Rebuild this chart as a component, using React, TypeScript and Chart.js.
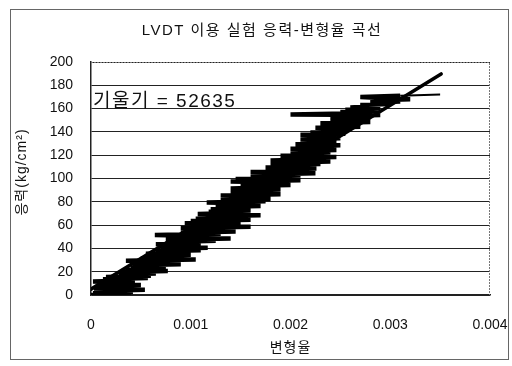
import React, { useEffect, useRef } from "react";
import { Chart, registerables } from "chart.js";

Chart.register(...registerables);

const TITLE = "LVDT 이용 실험 응력-변형율 곡선";
const X_TITLE = "변형율";
const Y_TITLE = "응력(kg/cm²)";
const SLOPE = 52635;
const INTERCEPT = 5;
const SLOPE_LABEL = "기울기 = 52635";
const X_TICKS = [0, 0.001, 0.002, 0.003, 0.004];
const Y_TICKS = [0, 20, 40, 60, 80, 100, 120, 140, 160, 180, 200];
const TREND_X = [0, 0.00351];

const strain = [
  0, 0.0004, 0.00002, 0.00042, 0.00005, 0.00054, 0.00003, 0.0004, 0.0001, 0.0005,
  0.00005, 0.00044, 0.00002, 0.0004, 0.00012, 0.00057, 0.00015,
  0.0006, 0.0003, 0.00065, 0.00028, 0.00077, 0.00035, 0.0006, 0.0004, 0.00075,
  0.00042, 0.0009, 0.00045, 0.0008, 0.00035, 0.00105,
  0.0005, 0.00095, 0.0006, 0.001, 0.00055, 0.0009, 0.00065, 0.0011, 0.0007,
  0.00117, 0.00072, 0.001, 0.00065, 0.0011, 0.0008,
  0.00125, 0.00075, 0.0014, 0.00085, 0.0012, 0.00064, 0.0013, 0.0009, 0.00145,
  0.00095, 0.0013, 0.0009, 0.0016, 0.001, 0.0014,
  0.00094, 0.0015, 0.001, 0.0016, 0.00105, 0.0014, 0.0011, 0.0017, 0.00107, 0.00155,
  0.00118, 0.0016, 0.0012, 0.0015, 0.00125, 0.0017, 0.0013, 0.0016, 0.00116, 0.00175,
  0.0013, 0.0018, 0.00135, 0.0017, 0.0013, 0.0019, 0.0014, 0.00175, 0.00145, 0.0019,
  0.0014, 0.00185, 0.0015, 0.002, 0.0015, 0.0019, 0.0014, 0.0021, 0.00145, 0.002,
  0.0016, 0.0021, 0.0017, 0.00225, 0.0016, 0.0021, 0.0018, 0.00226, 0.00175, 0.0022,
  0.0018, 0.0023, 0.0019, 0.0024, 0.0018, 0.0023, 0.00195, 0.00246, 0.0019, 0.0024,
  0.002, 0.0024, 0.0021, 0.00246, 0.002, 0.0024, 0.0021, 0.0025, 0.00205, 0.0024,
  0.0022, 0.00246, 0.0021, 0.0025, 0.0022, 0.0025, 0.0021, 0.00255, 0.0022, 0.0025,
  0.0023, 0.0026, 0.00225, 0.0027, 0.0024, 0.0026, 0.0023, 0.0028, 0.0024, 0.0027,
  0.0025, 0.0028, 0.0024, 0.0029, 0.002, 0.0027, 0.0025, 0.0029, 0.00255, 0.0029,
  0.0026, 0.0028, 0.0027, 0.003, 0.0028, 0.0031, 0.0028, 0.0032, 0.0029, 0.0027,
  0.0031, 0.0035,
];
const stress = [
  0, 0.5, 1.5, 2.5, 3.5, 4.5, 5.5, 6.5, 7.5, 8.5,
  9.5, 10.5, 11.5, 12.5, 13.5, 14.5, 15.5,
  16.5, 17.5, 18.5, 19.5, 20.5, 21.5, 22.5, 23.5, 24.5,
  25.5, 26.5, 27.5, 28.5, 29.5, 30.5,
  31.5, 32.5, 33.5, 34.5, 35.5, 36.5, 37.5, 38.5, 39.5,
  40.5, 41.5, 42.5, 43.5, 44.5, 45.5,
  46.5, 47.5, 48.5, 49.5, 50.5, 51.5, 52.5, 53.5, 54.5,
  55.5, 56.5, 57.5, 58.5, 59.5, 60.5,
  61.5, 62.5, 63.5, 64.5, 65.5, 66.5, 67.5, 68.5, 69.5, 70.5,
  71.5, 72.5, 73.5, 74.5, 75.5, 76.5, 77.5, 78.5, 79.5, 80.5,
  81.5, 82.5, 83.5, 84.5, 85.5, 86.5, 87.5, 88.5, 89.5, 90.5,
  91.5, 92.5, 93.5, 94.5, 95.5, 96.5, 97.5, 98.5, 99.5, 100.5,
  101.5, 102.5, 103.5, 104.5, 105.5, 106.5, 107.5, 108.5, 109.5, 110.5,
  111.5, 112.5, 113.5, 114.5, 115.5, 116.5, 117.5, 118.5, 119.5, 120.5,
  121.5, 122.5, 123.5, 124.5, 125.5, 126.5, 127.5, 128.5, 129.5, 130.5,
  131.5, 132.5, 133.5, 134.5, 135.5, 136.5, 137.5, 138.5, 139.5, 140.5,
  141.5, 142.5, 143.5, 144.5, 145.5, 146.5, 147.5, 148.5, 149.5, 150.5,
  151.5, 152.5, 153.5, 154.5, 155, 156, 157, 158, 159, 160,
  161, 162, 163, 164, 165, 166, 167, 168, 169, 170,
  171, 172,
];

const FONT = "'Liberation Sans', 'Noto Sans CJK KR', Arial, sans-serif";

export default function App() {
  const ref = useRef<HTMLCanvasElement>(null);
  useEffect(() => {
    document.body.style.margin = "0";
    const ctx = ref.current!.getContext("2d")! as any;
    ctx.letterSpacing = "1px";
    const data = strain.map((x, i) => ({ x, y: stress[i] }));
    const trend = TREND_X.map((x) => ({ x, y: x * SLOPE + INTERCEPT }));
    const lastIdx = strain.length - 1;
    const framePlugin = {
      id: "frame",
      afterDraw(chart: any) {
        const { ctx: c, chartArea: a } = chart;
        c.save();
        c.strokeStyle = "#777";
        c.lineWidth = 1;
        c.setLineDash([2, 1]);
        c.beginPath();
        c.moveTo(a.left, a.top + 0.5);
        c.lineTo(a.right - 0.5, a.top + 0.5);
        c.lineTo(a.right - 0.5, a.bottom);
        c.stroke();
        c.setLineDash([]);
        c.fillStyle = "#111";
        c.textBaseline = "alphabetic";
        c.textAlign = "left";
        c.letterSpacing = "1.5px";
        c.font = "19px " + FONT;
        c.fillText(SLOPE_LABEL, a.left + 2, a.top + 45);
        c.letterSpacing = "1.5px";
        c.font = "15px " + FONT;
        c.textAlign = "center";
        c.textBaseline = "middle";
        c.fillText(TITLE, 262, 31);
        c.letterSpacing = "1px";
        c.font = "14px " + FONT;
        c.fillText(X_TITLE, (a.left + a.right) / 2, 348);
        c.translate(22, 172);
        c.rotate(-Math.PI / 2);
        c.fillText(Y_TITLE, 0, 0);
        c.restore();
      },
    };
    const chart = new Chart(ctx, {
      type: "scatter",
      data: {
        datasets: [
          {
            data,
            showLine: true,
            borderColor: "#000",
            backgroundColor: "#000",
            borderWidth: 4.5,
            pointRadius: 0,
            tension: 0,
            segment: {
              borderWidth: (s: any) => (s.p1DataIndex === lastIdx ? 2 : 4.5),
            },
          },
          {
            data: trend,
            showLine: true,
            borderColor: "#000",
            borderWidth: 3.5,
            borderCapStyle: "round",
            pointRadius: 0,
          },
        ],
      },
      options: {
        animation: false,
        responsive: false,
        layout: { padding: { left: 0, right: 22, top: 62, bottom: 0 } },
        plugins: {
          legend: { display: false },
          tooltip: { enabled: false },
          title: { display: false },
        },
        scales: {
          x: {
            type: "linear",
            min: 0,
            max: 0.004,
            afterBuildTicks: (s: any) => {
              s.ticks = X_TICKS.map((v) => ({ value: v }));
            },
            afterFit: (s: any) => {
              s.height = 366 - 295;
              s.paddingLeft = 0;
              s.paddingRight = 0;
            },
            grid: { display: false, drawTicks: false },
            border: { display: true, color: "#222", width: 1.5 },
            ticks: {
              color: "#111",
              padding: 22,
              font: { family: FONT, size: 14 },
              callback: (v: any) => (v === 0 ? "0" : Number(v).toFixed(3)),
            },
          },
          y: {
            type: "linear",
            min: 0,
            max: 200,
            afterBuildTicks: (s: any) => {
              s.ticks = Y_TICKS.map((v) => ({ value: v }));
            },
            afterFit: (s: any) => {
              s.width = 91;
            },
            grid: { color: "#222", lineWidth: 1, drawTicks: false },
            border: { display: true, color: "#222", width: 1.5 },
            ticks: {
              color: "#111",
              padding: 18,
              font: { family: FONT, size: 14 },
            },
          },
        },
      },
      plugins: [framePlugin],
    } as any);
    return () => chart.destroy();
  }, []);
  return (
    <div style={{ position: "relative", width: 512, height: 366, background: "#fff" }}>
      <div
        style={{
          position: "absolute",
          left: 10,
          top: 9,
          width: 497,
          height: 349,
          border: "1px solid #666",
        }}
      />
      <canvas ref={ref} width={512} height={366} style={{ position: "absolute", left: 0, top: 0 }} />
    </div>
  );
}
